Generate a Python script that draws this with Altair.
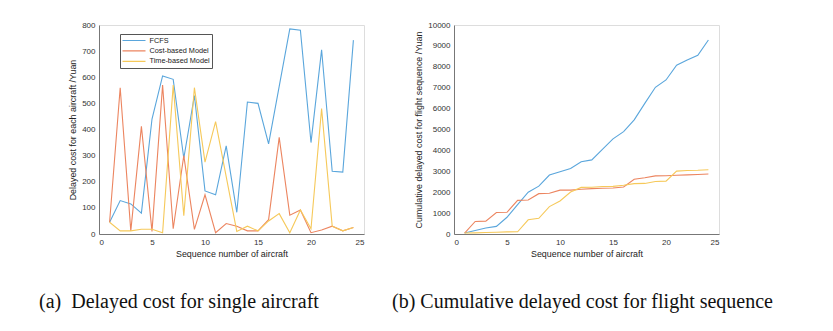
import altair as alt
import pandas as pd

seq = list(range(1, 25))
series_names = ["FCFS", "Cost-based Model", "Time-based Model"]
colors = ["#5aa6dc", "#ec8560", "#f6c95a"]
captions = ["(a)\u00a0\u00a0Delayed cost for single aircraft",
            "(b) Cumulative delayed cost for flight sequence"]

# (a) delayed cost for single aircraft
fcfs_single = [45, 128, 115, 80, 440, 605, 592, 290, 530, 165, 150, 337,
               83, 505, 500, 345, 565, 785, 780, 350, 705, 240, 237, 742]
cost_single = [45, 560, 12, 412, 10, 570, 20, 300, 18, 150, 5, 40,
               30, 12, 12, 55, 370, 72, 92, 5, 15, 30, 12, 25]
time_single = [45, 12, 12, 18, 18, 5, 570, 70, 560, 275, 430, 220,
               10, 30, 12, 50, 78, 5, 92, 20, 480, 30, 12, 25]

# (b) cumulative delayed cost for flight sequence
fcfs_cum = [45, 170, 285, 365, 800, 1410, 2000, 2290, 2820, 2980, 3130, 3460,
            3545, 4050, 4550, 4900, 5460, 6250, 7020, 7370, 8080, 8320, 8550, 9280]
cost_cum = [45, 600, 615, 1030, 1040, 1610, 1630, 1930, 1950, 2100, 2100, 2140,
            2170, 2190, 2200, 2250, 2620, 2690, 2780, 2790, 2810, 2830, 2850, 2870]
time_cum = [45, 55, 70, 85, 100, 105, 680, 750, 1310, 1580, 2010, 2230,
            2240, 2270, 2280, 2330, 2410, 2420, 2510, 2530, 3010, 3040, 3050, 3075]

W, H = 265, 209

axis_style = dict(
    labelFont="Liberation Sans", titleFont="Liberation Sans",
    labelFontSize=8, titleFontSize=8.9, titleFontWeight="normal",
    labelColor="#333", titleColor="#222", domainColor="#777",
    ticks=False, tickSize=0, grid=False, format="d",
)


def frame(a, b, c):
    rows = []
    for name, vals in zip(series_names, [a, b, c]):
        for s, v in zip(seq, vals):
            rows.append({"seq": s, "value": v, "series": name})
    return pd.DataFrame(rows)


def panel(df, ymax, ystep, ytitle, caption, cap_x):
    lines = alt.Chart(df).mark_line(strokeWidth=1.1).encode(
        x=alt.X("seq:Q", title="Sequence number of aircraft",
                scale=alt.Scale(domain=[0, 25], nice=False),
                axis=alt.Axis(values=[0, 5, 10, 15, 20, 25],
                              labelPadding=4, titlePadding=3, **axis_style)),
        y=alt.Y("value:Q", title=ytitle,
                scale=alt.Scale(domain=[0, ymax], nice=False),
                axis=alt.Axis(values=list(range(0, ymax + 1, ystep)),
                              labelPadding=4, titlePadding=4, **axis_style)),
        color=alt.Color("series:N", sort=series_names,
                        scale=alt.Scale(domain=series_names, range=colors),
                        legend=alt.Legend(title=None, orient="none",
                                          legendX=21, legendY=9,
                                          symbolType="stroke", symbolSize=529,
                                          symbolStrokeWidth=1.2,
                                          clipHeight=10, rowPadding=0.4,
                                          labelFontSize=7.3, labelColor="#222",
                                          labelFont="Liberation Sans",
                                          strokeColor="#555", padding=1.5,
                                          labelOffset=3)),
        detail="series:N",
    )
    cap = alt.Chart(pd.DataFrame({"t": [caption]})).mark_text(
        align="left", baseline="alphabetic", font="Liberation Serif",
        fontSize=20, color="#111",
    ).encode(x=alt.value(cap_x), y=alt.value(H + 74), text="t:N")
    return alt.layer(lines, cap).properties(width=W, height=H)


left = panel(frame(fcfs_single, cost_single, time_single), 800, 100,
             "Delayed cost for each aircraft /Yuan", captions[0], -60)
right = panel(frame(fcfs_cum, cost_cum, time_cum), 10000, 1000,
              "Cumulative delayed cost for flight sequence /Yuan", captions[1], -62)

chart = alt.hconcat(left, right, spacing=26).properties(
    padding={"left": 30, "top": 12, "right": 5, "bottom": 5}
).configure_view(stroke=None).configure(background="white")

chart.save("out.html", embed_options={"renderer": "svg", "actions": False})
